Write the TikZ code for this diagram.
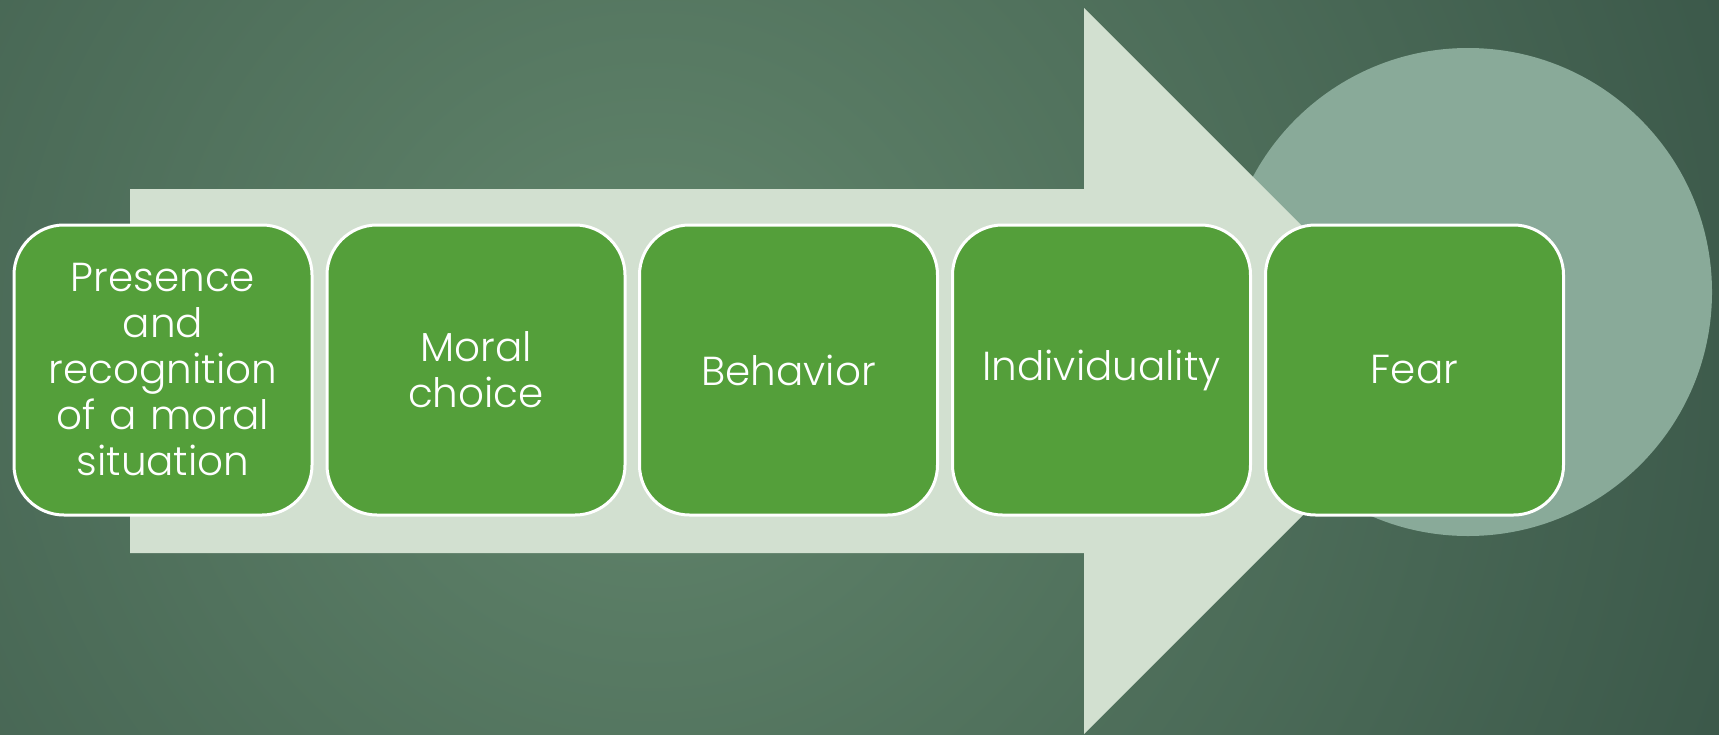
\documentclass[tikz,border=0pt]{standalone}
\usepackage{fontspec}
\setmainfont{Poppins}[UprightFont={* Light}]
\definecolor{bglight}{RGB}{98,134,108}
\definecolor{bgdark}{RGB}{44,70,60}
\definecolor{arrowc}{RGB}{210,224,208}
\definecolor{circc}{RGB}{137,170,153}
\definecolor{boxg}{RGB}{84,159,58}
\tikzset{
  stepbox/.style={draw=white, line width=3pt, fill=boxg, rounded corners=50pt,
    minimum width=298pt, minimum height=290pt, text width=290pt, align=center,
    inner sep=0pt, text=white, font=\fontsize{40.5}{46}\selectfont},
}
\begin{document}
\begin{tikzpicture}[x=1pt,y=-1pt]
\useasboundingbox (0,0) rectangle (1719,734);
\begin{scope}
  \clip (0,0) rectangle (1719,734);
  \fill[bgdark] (0,0) rectangle (1719,734);
  \shade[inner color=bglight, outer color=bgdark] (650,350) circle (1600pt);
\end{scope}
\fill[circc] (1468,292) circle (244pt);
\fill[arrowc] (130,189) -- (1084,189) -- (1084,8) -- (1447,371) -- (1084,734)
  -- (1084,553) -- (130,553) -- cycle;
\node[stepbox] (b1) at (163,370) {Presence\\and\\recognition\\of a moral\\situation};
\node[stepbox] (b2) at (476,370) {Moral\\choice};
\node[stepbox] (b3) at (788.5,370) {Behavior};
\node[stepbox] (b4) at (1101.5,370) {Individuality};
\node[stepbox] (b5) at (1414.5,370) {Fear};
\end{tikzpicture}
\end{document}
